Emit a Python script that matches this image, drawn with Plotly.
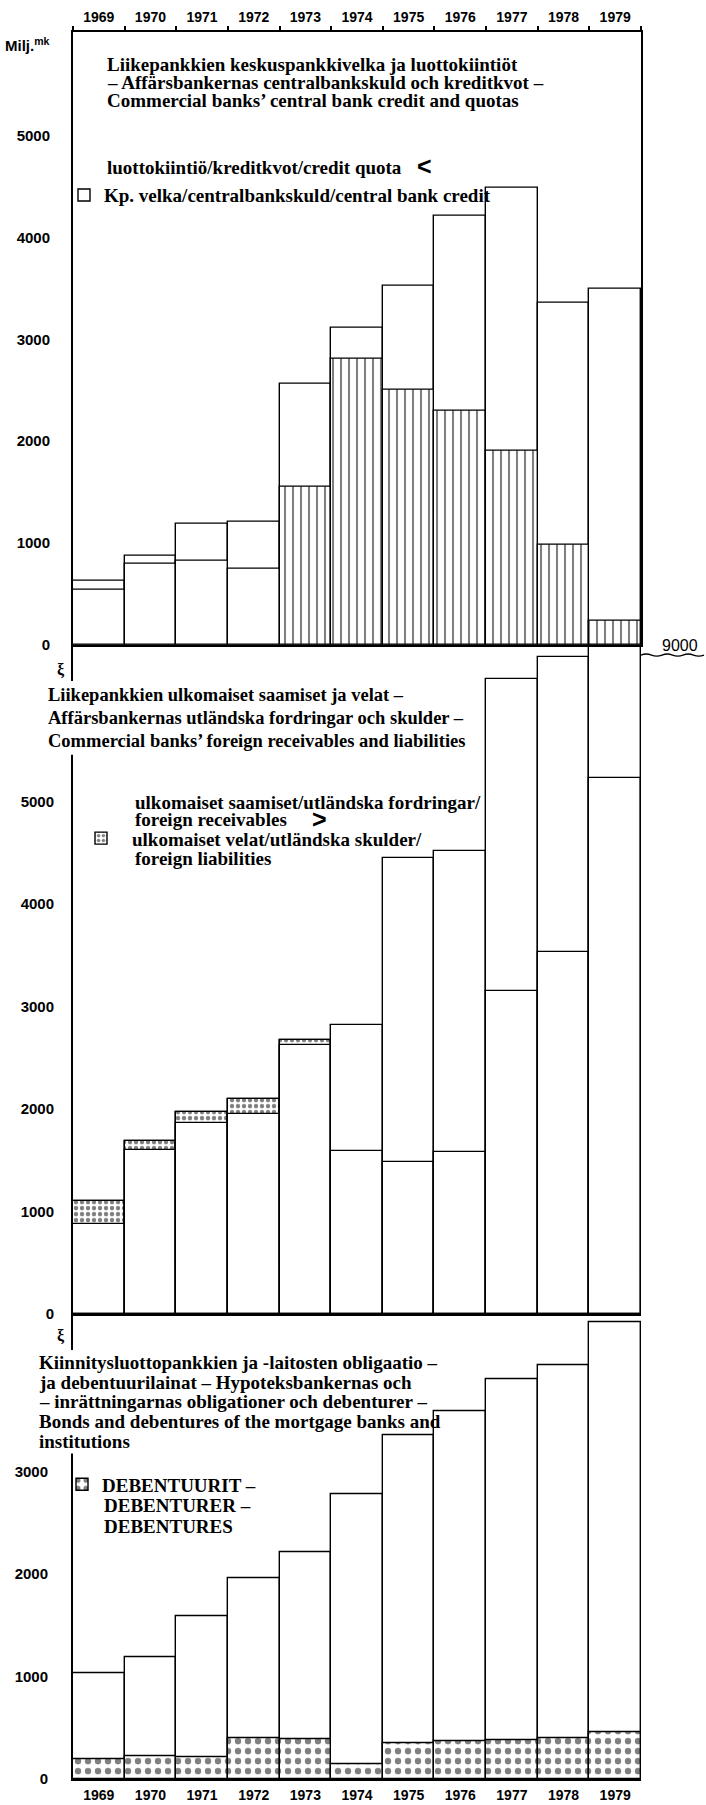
import plotly.graph_objects as go

# ---- data (mill. mk) -------------------------------------------------------
years = ["1969", "1970", "1971", "1972", "1973", "1974",
         "1975", "1976", "1977", "1978", "1979"]

# commercial banks: credit quotas and central bank debt
credit_quota = [628, 872, 1194, 1208, 2565, 3115, 3522, 4206, 4489, 3359, 3499]
central_bank_debt = [540, 798, 823, 749, 1556, 2806, 2500, 2298, 1907, 986, 234]

# commercial banks: foreign receivables and foreign liabilities
foreign_receivables = [874, 1599, 1861, 1955, 2621, 2822, 4443, 4515, 6197, 6408, 9000]
foreign_liabilities = [1107, 1683, 1968, 2100, 2677, 1586, 1482, 1576, 3155, 3527, 5226]

# mortgage banks: bonds and debentures outstanding, of which debentures
bonds_total = [1032, 1191, 1589, 1961, 2217, 2777, 3359, 3592, 3896, 4039, 4453]
debentures = [191, 223, 217, 398, 391, 142, 353, 369, 375, 400, 460]

ticks_1 = [0, 1000, 2000, 3000, 4000, 5000]
ticks_2 = [0, 1000, 2000, 3000, 4000, 5000]
ticks_3 = [0, 1000, 2000, 3000]

# ---- page geometry -----------------------------------------------------------
W, H = 706, 1805
SERIF = "Liberation Serif"
SANS = "Liberation Sans"
TXT = 19


def px(x):
    return x / W


def py(y):
    return 1 - y / H


X_DOM = [px(73), px(641)]
# vertical extents of the three panels (page pixels) and units per pixel
P1 = (32, 648, 0.1024)
P2 = (650, 1320, 0.103)
P3 = (1322, 1787, 0.103)


def y_dom(p):
    return [py(p[1]), py(p[0])]


def y_rng(p):
    return [0, (p[1] - p[0]) / p[2]]


OUT = dict(color="black", width=1.4)

fig = go.Figure()

# ---- panel 1: quota and central bank debt -----------------------------------
hatch = ["" if int(y) < 1973 else "|" for y in years]
fig.add_bar(x=years, y=credit_quota, xaxis="x", yaxis="y", width=1,
            marker=dict(color="white", line=OUT), showlegend=False,
            name="luottokiintiö/kreditkvot/credit quota")
fig.add_bar(x=years, y=central_bank_debt, xaxis="x", yaxis="y", width=1,
            marker=dict(color="white", line=OUT,
                        pattern=dict(shape=hatch, fgcolor="black", bgcolor="white",
                                     size=8, solidity=0.26)),
            name="Kp. velka/centralbankskuld/central bank credit", legend="legend")

# ---- panel 2: foreign receivables and liabilities -----------------------------
dots2 = dict(shape=".", fgcolor="black", bgcolor="white", size=6, solidity=0.42)
fig.add_bar(x=years, y=foreign_liabilities, xaxis="x2", yaxis="y2", width=1,
            marker=dict(color="white", line=OUT, pattern=dots2),
            name="ulkomaiset velat/utländska skulder/", legend="legend2")
fig.add_bar(x=years, y=foreign_receivables, xaxis="x2", yaxis="y2", width=1,
            marker=dict(color="white", line=OUT), showlegend=False,
            name="ulkomaiset saamiset/utländska fordringar/foreign receivables")
fig.add_bar(x=years, y=foreign_liabilities, xaxis="x2", yaxis="y2", width=1,
            marker=dict(color="rgba(0,0,0,0)", line=OUT), showlegend=False,
            hoverinfo="skip", name="foreign liabilities")

# ---- panel 3: bonds and debentures --------------------------------------------
dots3 = dict(shape=".", fgcolor="black", bgcolor="white", size=10, solidity=0.32)
fig.add_bar(x=years, y=bonds_total, xaxis="x3", yaxis="y3", width=1,
            marker=dict(color="white", line=OUT), showlegend=False,
            name="Bonds and debentures")
fig.add_bar(x=years, y=debentures, xaxis="x3", yaxis="y3", width=1,
            marker=dict(color="white", line=OUT, pattern=dots3),
            name="DEBENTUURIT –", legend="legend3")

# ---- axes ---------------------------------------------------------------------
tick_font = dict(family=SANS, size=15, color="black", weight="bold")
year_font = dict(family=SANS, size=14, color="black", weight="bold")
cat = dict(type="category", range=[-0.5, 10.5], domain=X_DOM, showgrid=False,
           zeroline=False, linecolor="black", fixedrange=True)
val = dict(showgrid=False, zeroline=False, linecolor="black", showline=True,
           linewidth=2, ticks="", tickfont=tick_font, fixedrange=True)

fig.update_layout(
    xaxis=dict(**cat, anchor="y", side="top", showline=True, linewidth=2, mirror=True,
               ticks="outside", tickson="boundaries", ticklen=4, tickwidth=1.5,
               tickcolor="black", tickfont=year_font, ticklabelstandoff=2),
    yaxis=dict(**val, domain=y_dom(P1), range=y_rng(P1), anchor="x", mirror=True,
               tickvals=ticks_1, ticklabelstandoff=18),
    xaxis2=dict(**cat, anchor="y2", showline=True, linewidth=1.5, showticklabels=False,
                ticks=""),
    yaxis2=dict(**val, domain=y_dom(P2), range=y_rng(P2), anchor="x2",
                tickvals=ticks_2, ticklabelstandoff=14),
    xaxis3=dict(**cat, anchor="y3", showline=True, linewidth=2, ticks="",
                tickfont=year_font, ticklabelstandoff=2),
    yaxis3=dict(**val, domain=y_dom(P3), range=y_rng(P3), anchor="x3",
                tickvals=ticks_3, ticklabelstandoff=20),
    barmode="overlay",
    bargap=0,
    width=W, height=H,
    margin=dict(l=0, r=0, t=0, b=0),
    paper_bgcolor="white", plot_bgcolor="rgba(0,0,0,0)",
    font=dict(family=SERIF, color="black"),
)

leg_font = dict(family=SERIF, size=TXT, color="black", weight="bold")
leg = dict(xanchor="left", yanchor="middle", bgcolor="rgba(0,0,0,0)",
           borderwidth=0, font=leg_font, itemclick=False, itemdoubleclick=False)
fig.update_layout(
    legend=dict(**leg, x=px(64), y=py(196)),
    legend2=dict(**leg, x=px(70), y=py(842), itemwidth=52),
    legend3=dict(**leg, x=px(62), y=py(1491)),
)

# ---- texts --------------------------------------------------------------------
notes = []


def text(s, x, y, size=TXT, family=SERIF, xanchor="left", weight="bold"):
    notes.append(dict(text=s, x=px(x), y=py(y), xref="paper", yref="paper",
                      xanchor=xanchor, yanchor="middle", showarrow=False,
                      font=dict(family=family, size=size, color="black", weight=weight)))


text("Milj.<sup>mk</sup>", 3, 45, size=15, family=SANS)

title_1 = ["Liikepankkien keskuspankkivelka ja luottokiintiöt",
           "– Affärsbankernas centralbankskuld och kreditkvot –",
           "Commercial banks’ central bank credit and quotas"]
for s, y in zip(title_1, [65, 83, 101]):
    text(s, 105, y)
text("luottokiintiö/kreditkvot/credit quota", 105, 168)
text("<", 415, 167, size=25, family=SANS)

title_2 = ["Liikepankkien ulkomaiset saamiset ja velat –",
           "Affärsbankernas utländska fordringar och skulder –",
           "Commercial banks’ foreign receivables and liabilities"]
for s, y in zip(title_2, [698, 721, 744]):
    text(s, 46, y, size=18.5)
text("ulkomaiset saamiset/utländska fordringar/", 133, 806)
text("foreign receivables", 133, 823)
text(">", 310, 823, size=25, family=SANS)
text("foreign liabilities", 133, 862)

title_3 = ["Kiinnitysluottopankkien ja -laitosten obligaatio –",
           "ja debentuurilainat – Hypoteksbankernas och",
           "– inrättningarnas obligationer och debenturer –",
           "Bonds and debentures of the mortgage banks and",
           "institutions"]
for s, y in zip(title_3, [1369, 1389, 1408, 1428, 1448]):
    text(s, 37, y)
text("DEBENTURER –", 102, 1512)
text("DEBENTURES", 102, 1533)

# axis break marks and the off-scale 1979 receivables value
text("ξ", 61, 673, size=16, family=SERIF, xanchor="center")
text("ξ", 61, 1342, size=16, family=SERIF, xanchor="center")
text(f"{foreign_receivables[-1]:d}", 680, 648, size=16, family=SANS,
     xanchor="center", weight="normal")

fig.update_layout(annotations=notes)


def wave(x0, x1, y, amp, n):
    step = (x1 - x0) / n
    d = f"M{px(x0):.5f},{py(y):.5f}"
    for i in range(n):
        xa, xb = x0 + step * (i + 0.5), x0 + step * (i + 1)
        ya = y + (amp if i % 2 else -amp)
        d += f" Q{px(xa):.5f},{py(ya):.5f} {px(xb):.5f},{py(y):.5f}"
    return d


shapes = [
    # gaps in the left axis lines behind the panel headings
    dict(type="rect", xref="paper", yref="paper", x0=px(66), x1=px(80),
         y0=py(758), y1=py(684), fillcolor="white", line=dict(width=0), layer="above"),
    dict(type="rect", xref="paper", yref="paper", x0=px(64), x1=px(80),
         y0=py(1460), y1=py(1356), fillcolor="white", line=dict(width=0), layer="above"),
    # broken-scale wave to the right of the 1979 column
    dict(type="path", xref="paper", yref="paper", path=wave(641, 704, 658, 2.2, 6),
         line=dict(color="black", width=1.3)),
]
fig.update_layout(shapes=shapes)

fig.write_html("out.html")
